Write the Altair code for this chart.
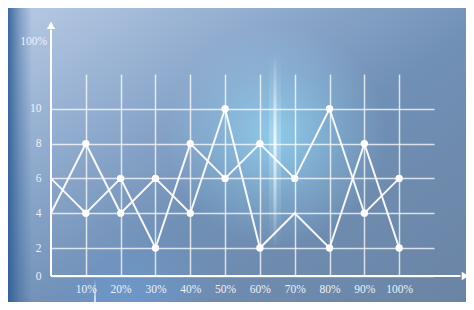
import altair as alt
import pandas as pd

# ---- data ----
x_pct = [0, 10, 20, 30, 40, 50, 60, 70, 80, 90, 100]
series_a = [4, 8, 4, 6, 4, 10, 2, 4, 2, 8, 2]
series_b = [6, 4, 6, 2, 8, 6, 8, 6, 10, 4, 6]
dot_a = [False, True, True, True, True, True, True, False, True, True, True]
dot_b = [False, True, True, True, True, True, True, True, True, True, True]
x_ticks = [10, 20, 30, 40, 50, 60, 70, 80, 90, 100]
y_ticks = [0, 2, 4, 6, 8, 10]
top_label = ["100%"]

rows = []
for i, xv in enumerate(x_pct):
    rows.append(dict(x=xv, v=series_a[i], s="A", dot=dot_a[i]))
    rows.append(dict(x=xv, v=series_b[i], s="B", dot=dot_b[i]))
df = pd.DataFrame(rows)

W, H = 383, 202
PL, PT, PR, PB = 43, 66, 32, 26
FONT = "Liberation Serif"
TXT = "#edf1f9"

xs = alt.Scale(domain=[0, 110], nice=False, zero=False)
ys = alt.Scale(domain=[0, 2, 12], range=[H, H - 28, 0], nice=False, zero=False)

one = pd.DataFrame({"k": [0]})


def radial(c, a):
    return alt.RadialGradient(
        gradient="radial", x1=0.5, y1=0.5, x2=0.5, y2=0.5, r1=0, r2=0.5,
        stops=[alt.GradientStop(offset=0, color=f"rgba({c},{a})"),
               alt.GradientStop(offset=0.6, color=f"rgba({c},{a * 0.35})"),
               alt.GradientStop(offset=1, color=f"rgba({c},0)")])


def vfade(c, a):
    return alt.LinearGradient(
        gradient="linear", x1=0, y1=0, x2=0, y2=1,
        stops=[alt.GradientStop(offset=0, color=f"rgba({c},0)"),
               alt.GradientStop(offset=0.45, color=f"rgba({c},{a})"),
               alt.GradientStop(offset=1, color=f"rgba({c},0)")])


def deco(color, x0, x1, y0, y1):
    return alt.Chart(one).mark_rect(color=color).encode(
        x=alt.value(x0), x2=alt.value(x1), y=alt.value(y0), y2=alt.value(y1))


bg = deco(alt.LinearGradient(
    gradient="linear", x1=0, y1=0, x2=1, y2=1,
    stops=[alt.GradientStop(offset=0, color="#b8cae4"),
           alt.GradientStop(offset=0.3, color="#8eaacd"),
           alt.GradientStop(offset=0.55, color="#7190b6"),
           alt.GradientStop(offset=1, color="#6a84a4")]),
    -PL, W + PR, -PT, H + PB)

left_strip = deco(alt.LinearGradient(
    gradient="linear", x1=0, y1=0, x2=1, y2=0,
    stops=[alt.GradientStop(offset=0, color="rgba(40,88,145,0.85)"),
           alt.GradientStop(offset=0.5, color="rgba(40,88,145,0.35)"),
           alt.GradientStop(offset=1, color="rgba(40,88,145,0)")]),
    -PL, -PL + 24, -PT, H + PB)

glow = deco(radial("150,215,245", 0.8), 224 - 110, 224 + 110, 61 - 110, 61 + 110)
glow2 = deco(radial("105,160,225", 0.6), -10, 170, 150, 330)
halo = deco(vfade("220,245,255", 0.3), 218, 230, -20, 175)
streak = deco(vfade("245,252,255", 0.85), 222.5, 225.5, -20, 175)
streak2 = deco(vfade("225,245,255", 0.8), 43, 45, 205, 250)

base = alt.Chart(df)

xaxis = alt.Axis(values=x_ticks, labelExpr="datum.value + '%'", grid=True,
                 domain=False, ticks=False, title=None, labelPadding=7, zindex=1,
                 labelFont=FONT, labelFontSize=11.5, labelColor=TXT)
yaxis = alt.Axis(values=y_ticks, grid=True, domain=False, ticks=False, title=None, zindex=1,
                 labelPadding=10, labelFont=FONT, labelFontSize=11.5, labelColor=TXT)

lines = base.mark_line(color="white", strokeWidth=2, opacity=0.92).encode(
    x=alt.X("x:Q", scale=xs, axis=xaxis),
    y=alt.Y("v:Q", scale=ys, axis=yaxis),
    detail="s:N",
)

dots = base.transform_filter("datum.dot").mark_circle(color="white", size=55, opacity=1).encode(
    x=alt.X("x:Q", scale=xs), y=alt.Y("v:Q", scale=ys)
)

axes_df = pd.DataFrame({"x": [0, 0], "x2": [0, 117.6], "y": [0, 0], "y2": [14.55, 0]})
axis_lines = alt.Chart(axes_df).mark_rule(color="white", strokeWidth=2).encode(
    x=alt.X("x:Q", scale=xs), x2="x2:Q", y=alt.Y("y:Q", scale=ys), y2="y2:Q"
)

arrows_df = pd.DataFrame({"x": [0, 119.0], "y": [14.8, 0], "shape": ["triangle-up", "triangle-right"]})
arrows = alt.Chart(arrows_df).mark_point(filled=True, color="white", size=70, opacity=1).encode(
    x=alt.X("x:Q", scale=xs), y=alt.Y("y:Q", scale=ys),
    shape=alt.Shape("shape:N", scale=None),
)

top_df = pd.DataFrame({"x": [0], "y": [13.84], "t": top_label})
top_text = alt.Chart(top_df).mark_text(
    align="right", baseline="middle", dx=-4, font=FONT, fontSize=11.5, color=TXT
).encode(x=alt.X("x:Q", scale=xs), y=alt.Y("y:Q", scale=ys), text="t:N")

chart = alt.layer(bg, left_strip, glow, glow2, halo, streak, streak2, lines, axis_lines, dots,
                  arrows, top_text).properties(
    width=W, height=H,
    autosize=alt.AutoSizeParams(type="none"),
    padding={"left": PL, "top": PT, "right": PR, "bottom": PB},
    background="#7b99be",
).configure_view(stroke=None).configure_axis(
    gridColor="white", gridOpacity=0.75, gridWidth=1.5
)

chart.save("out.html", embed_options={"renderer": "svg", "actions": False})
